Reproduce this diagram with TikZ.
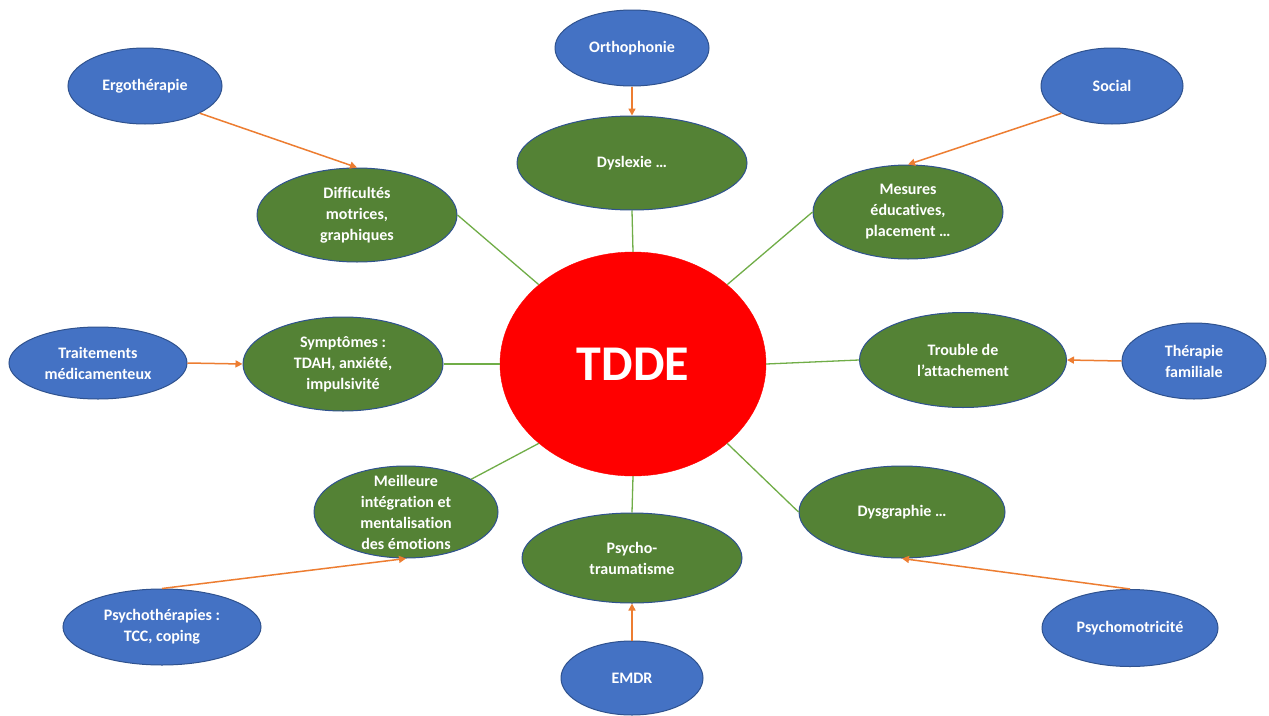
\documentclass[tikz,border=0pt]{standalone}
\usepackage{fontspec}
\setmainfont{Carlito}[Ligatures=NoCommon]
\usetikzlibrary{shapes,arrows.meta,positioning}

\definecolor{tdred}{HTML}{FF0000}
\definecolor{tdgreen}{HTML}{548235}
\definecolor{tdblue}{HTML}{4472C4}
\definecolor{tdedge}{HTML}{2F528F}
\definecolor{tdlink}{HTML}{70AD47}
\definecolor{tdorange}{HTML}{ED7D31}

\tikzset{
  core/.style={ellipse, fill=tdred, draw=tdred, inner sep=0pt},
  issue/.style={ellipse, fill=tdgreen, draw=tdedge, line width=1, inner sep=0pt},
  care/.style={ellipse, fill=tdblue, draw=tdedge, line width=1, inner sep=0pt},
  txt/.style={text=white, font=\bfseries\fontsize{16}{21}\selectfont, align=center},
  link/.style={draw=tdlink, line width=1.3},
  help/.style={draw=tdorange, line width=1.5, -{Triangle[length=7,width=7]}}
}

\begin{document}
\begin{tikzpicture}[x=1pt, y=-1pt]
  \path[use as bounding box, fill=white] (0,0) rectangle (1269,715);

  % Centre
  \node[core, minimum width=266, minimum height=224,
        label={[text=white, font=\bfseries\fontsize{50}{60}\selectfont]center:TDDE}] (tdde) at (633,364) {};

  % Troubles associes
  \node[issue, minimum width=230, minimum height=94, label={[txt]center:Dyslexie …}] (dys) at (632,163) {};
  \node[issue, minimum width=200, minimum height=94, label={[txt]center:{Difficultés\\motrices,\\graphiques}}] (motr) at (357,215) {};
  \node[issue, minimum width=190, minimum height=94, label={[txt]center:{Mesures\\éducatives,\\placement …}}] (mes) at (908,212) {};
  \node[issue, minimum width=200, minimum height=94, label={[txt]center:{Symptômes :\\TDAH, anxiété,\\impulsivité}}] (sympt) at (343,364) {};
  \node[issue, minimum width=207, minimum height=95, label={[txt]center:{Trouble de\\l’attachement}}] (attach) at (963,360) {};
  \node[issue, minimum width=184, minimum height=92, label={[txt]center:{Meilleure\\intégration et\\mentalisation\\des émotions}}] (mentl) at (406,512) {};
  \node[issue, minimum width=206, minimum height=92, label={[txt]center:Dysgraphie …}] (dysg) at (902,512) {};
  \node[issue, minimum width=220, minimum height=90, label={[txt]center:{Psycho-\\traumatisme}}] (trauma) at (632,558) {};

  % Prises en charge
  \node[care, minimum width=154, minimum height=76, label={[txt]center:Orthophonie}] (ortho) at (632,48) {};
  \node[care, minimum width=154, minimum height=76, label={[txt]center:Ergothérapie}] (ergo) at (145,86) {};
  \node[care, minimum width=142, minimum height=76, label={[txt]center:Social}] (social) at (1112,86) {};
  \node[care, minimum width=178, minimum height=72, label={[txt]center:{Traitements\\médicamenteux}}] (trait) at (98,363) {};
  \node[care, minimum width=144, minimum height=76, label={[txt]center:{Thérapie\\familiale}}] (famil) at (1194,361) {};
  \node[care, minimum width=198, minimum height=76, label={[txt]center:{Psychothérapies :\\TCC, coping}}] (psyth) at (162,627) {};
  \node[care, minimum width=176, minimum height=77, label={[txt]center:Psychomotricité}] (psymo) at (1130,628) {};
  \node[care, minimum width=142, minimum height=74, label={[txt]center:EMDR}] (emdr) at (632,678) {};

  % Liens vers le centre
  \draw[link] (dys.south) -- (tdde.north);
  \draw[link] (motr.east) -- (tdde.north west);
  \draw[link] (mes.west) -- (tdde.north east);
  \draw[link] (sympt.east) -- (tdde.west);
  \draw[link] (attach.west) -- (tdde.east);
  \draw[link] (mentl.north east) -- (tdde.south west);
  \draw[link] (dysg.west) -- (tdde.south east);
  \draw[link] (trauma.north) -- (tdde.south);

  % Fleches des prises en charge
  \draw[help] (ortho.south) -- (dys.north);
  \draw[help] (ergo.south east) -- (motr.north);
  \draw[help] (social.south west) -- (mes.north);
  \draw[help] (trait.east) -- (sympt.west);
  \draw[help] (famil.west) -- (attach.east);
  \draw[help] (psyth.north) -- (mentl.south);
  \draw[help] (psymo.north) -- (dysg.south);
  \draw[help] (emdr.north) -- (trauma.south);
\end{tikzpicture}
\end{document}
